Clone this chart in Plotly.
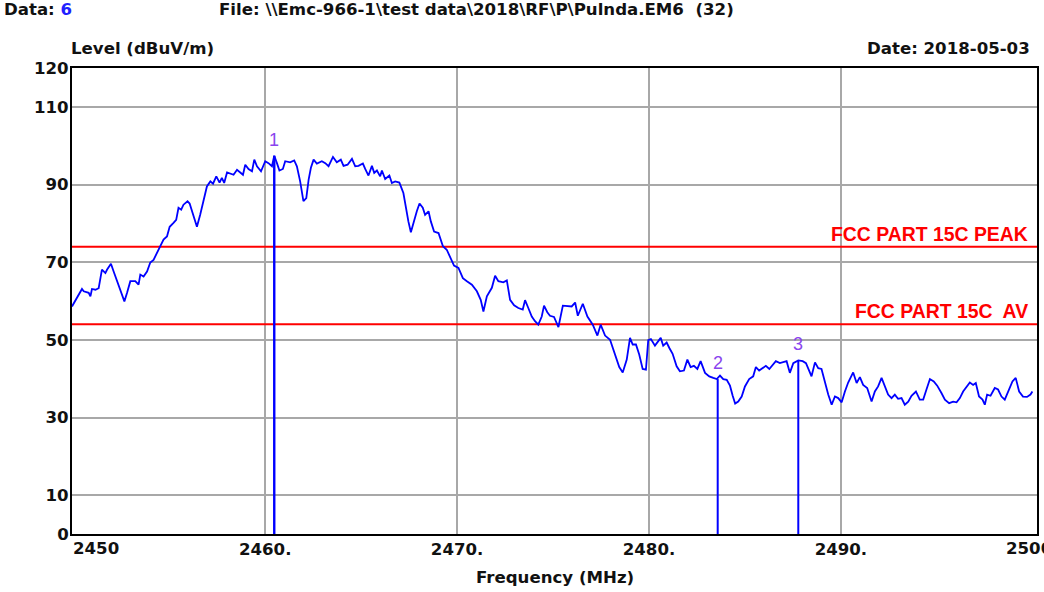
import plotly.graph_objects as go

# ---- data ----
freq_mhz = [
    2449.93, 2450.19, 2450.45, 2450.54, 2450.80, 2450.89, 2450.97, 2451.15, 2451.32, 2451.49,
    2451.67, 2451.76, 2451.96, 2452.10, 2452.36, 2452.66, 2452.80, 2452.97, 2453.23, 2453.40,
    2453.49, 2453.66, 2453.84, 2454.01, 2454.18, 2454.36, 2454.53, 2454.70, 2454.88, 2455.02,
    2455.22, 2455.36, 2455.48, 2455.62, 2455.74, 2455.95, 2456.06, 2456.27, 2456.44, 2456.61,
    2456.79, 2456.96, 2457.14, 2457.28, 2457.45, 2457.62, 2457.74, 2457.86, 2458.01, 2458.18,
    2458.35, 2458.53, 2458.70, 2458.84, 2458.96, 2459.13, 2459.31, 2459.43, 2459.57, 2459.78,
    2460.00, 2460.17, 2460.35, 2460.47, 2460.61, 2460.74, 2460.92, 2461.04, 2461.30, 2461.51,
    2461.65, 2461.82, 2461.99, 2462.14, 2462.26, 2462.38, 2462.52, 2462.69, 2462.95, 2463.13,
    2463.30, 2463.53, 2463.73, 2463.94, 2464.08, 2464.29, 2464.52, 2464.69, 2464.86, 2465.09,
    2465.21, 2465.38, 2465.56, 2465.68, 2465.82, 2465.99, 2466.08, 2466.25, 2466.47, 2466.60,
    2466.77, 2466.99, 2467.20, 2467.34, 2467.46, 2467.59, 2467.72, 2467.90, 2468.04, 2468.21,
    2468.33, 2468.51, 2468.63, 2468.80, 2469.03, 2469.26, 2469.46, 2469.64, 2469.84, 2470.07,
    2470.30, 2470.51, 2470.77, 2471.03, 2471.23, 2471.37, 2471.55, 2471.81, 2471.98, 2472.15,
    2472.41, 2472.59, 2472.76, 2472.97, 2473.19, 2473.42, 2473.54, 2473.71, 2473.89, 2474.06,
    2474.23, 2474.41, 2474.53, 2474.70, 2474.84, 2475.05, 2475.28, 2475.51, 2475.80, 2475.97,
    2476.15, 2476.29, 2476.55, 2476.79, 2477.07, 2477.31, 2477.48, 2477.71, 2477.97, 2478.23,
    2478.45, 2478.63, 2478.84, 2479.01, 2479.15, 2479.32, 2479.49, 2479.67, 2479.84, 2479.96,
    2480.10, 2480.31, 2480.43, 2480.61, 2480.74, 2480.92, 2481.06, 2481.23, 2481.44, 2481.61,
    2481.82, 2482.00, 2482.17, 2482.34, 2482.52, 2482.69, 2482.92, 2483.14, 2483.35, 2483.53,
    2483.70, 2483.87, 2484.05, 2484.22, 2484.36, 2484.49, 2484.65, 2484.83, 2485.00, 2485.22,
    2485.43, 2485.57, 2485.74, 2485.92, 2486.09, 2486.27, 2486.44, 2486.61, 2486.82, 2487.00,
    2487.17, 2487.34, 2487.52, 2487.78, 2488.01, 2488.18, 2488.35, 2488.47, 2488.65, 2488.82,
    2488.99, 2489.17, 2489.34, 2489.52, 2489.69, 2489.86, 2490.04, 2490.21, 2490.38, 2490.64,
    2490.82, 2490.99, 2491.16, 2491.37, 2491.60, 2491.77, 2491.94, 2492.12, 2492.29, 2492.46,
    2492.64, 2492.81, 2492.98, 2493.16, 2493.33, 2493.51, 2493.68, 2493.91, 2494.11, 2494.29,
    2494.46, 2494.64, 2494.84, 2495.02, 2495.24, 2495.42, 2495.64, 2495.85, 2496.03, 2496.20,
    2496.37, 2496.55, 2496.72, 2496.89, 2497.03, 2497.20, 2497.38, 2497.50, 2497.62, 2497.80,
    2498.02, 2498.19, 2498.37, 2498.54, 2498.71, 2498.94, 2499.11, 2499.29, 2499.49, 2499.70,
    2499.88, 2499.98,
]
level_dbuv = [
    58.6, 60.8, 63.1, 62.5, 62.1, 61.2, 63.1, 62.9, 63.3, 68.1,
    67.2, 68.1, 69.6, 67.6, 63.8, 59.9, 62.1, 65.1, 65.1, 64.2,
    66.8, 66.3, 67.6, 69.9, 70.6, 72.4, 74.1, 75.8, 76.6, 79.1,
    80.1, 80.9, 84.0, 83.5, 84.8, 85.7, 85.1, 81.6, 79.1, 82.2,
    86.1, 89.5, 90.8, 90.2, 92.1, 90.5, 91.7, 90.4, 93.1, 92.8,
    92.5, 93.8, 93.0, 92.5, 95.1, 94.0, 93.4, 96.4, 94.7, 93.4,
    96.0, 95.5, 94.7, 97.4, 95.5, 93.6, 94.0, 96.0, 95.7, 96.2,
    94.7, 90.8, 85.7, 86.5, 91.2, 94.3, 96.4, 95.4, 96.0, 95.5,
    94.7, 97.1, 95.7, 96.4, 94.8, 95.1, 96.6, 94.7, 94.8, 95.4,
    94.0, 92.3, 94.8, 93.0, 93.6, 92.1, 93.6, 91.4, 92.3, 90.4,
    90.8, 90.5, 87.8, 83.5, 80.5, 77.7, 80.1, 83.1, 85.1, 84.0,
    82.2, 83.1, 80.5, 77.9, 77.5, 74.1, 73.2, 71.1, 69.1, 68.5,
    65.9, 65.1, 64.2, 62.5, 60.3, 57.3, 61.2, 63.4, 66.5, 65.1,
    64.8, 65.3, 60.3, 58.9, 58.2, 57.8, 60.2, 58.2, 56.0, 54.8,
    53.9, 56.0, 58.8, 57.1, 56.2, 55.9, 53.3, 58.8, 58.6, 58.6,
    59.6, 56.2, 59.3, 56.0, 53.9, 51.1, 53.9, 51.1, 50.0, 46.4,
    43.0, 41.6, 44.9, 50.5, 48.8, 48.8, 46.2, 42.5, 42.3, 49.9,
    50.2, 48.5, 49.2, 50.5, 48.5, 49.3, 47.9, 46.4, 43.2, 41.9,
    42.1, 44.9, 43.0, 43.3, 42.5, 44.5, 41.5, 40.6, 40.2, 39.9,
    40.8, 39.9, 39.7, 38.2, 35.6, 33.6, 34.1, 35.4, 38.0, 39.9,
    40.6, 43.0, 42.1, 42.7, 43.3, 42.5, 43.6, 44.5, 44.0, 44.2,
    44.5, 41.5, 44.0, 44.7, 44.5, 44.0, 41.9, 40.6, 44.2, 42.7,
    42.5, 38.9, 35.9, 33.3, 35.4, 35.0, 33.9, 36.7, 39.0, 41.6,
    38.9, 40.4, 38.4, 37.6, 34.1, 36.7, 38.0, 40.2, 38.0, 35.9,
    35.0, 35.9, 34.8, 35.0, 33.3, 34.1, 35.6, 36.7, 34.6, 34.6,
    37.2, 39.9, 39.3, 38.2, 36.3, 34.6, 33.7, 34.1, 33.9, 35.0,
    36.7, 38.0, 39.0, 38.4, 38.9, 35.4, 34.6, 33.3, 35.9, 35.6,
    37.6, 37.2, 35.4, 34.6, 36.7, 39.3, 40.2, 36.7, 35.4, 35.3,
    35.9, 36.7,
]

marker_freqs = [2460.47, 2483.58, 2487.78]
marker_levels = [97.4, 39.9, 44.7]
marker_labels = ["1", "2", "3"]

limit_levels = [74, 54]
limit_labels = ["FCC PART 15C PEAK", "FCC PART 15C\u00a0 AV"]

x_range = [2449.93, 2500.22]
y_range = [0, 120]
y_tickvals = [0, 10, 30, 50, 70, 90, 110, 120]
y_ticktext = ["0", "10", "30", "50", "70", "90", "110", "120"]
x_tickvals = [2460, 2470, 2480, 2490]
x_ticktext = ["2460.", "2470.", "2480.", "2490."]
x_edge_ticks = [2450, 2500]
x_edge_text = ["2450", "2500."]

header_file = r"File: \\Emc-966-1\test data\2018\RF\P\Pulnda.EM6" + "\u00a0 (32)"
header_data_no = "6"
header_date = "Date: 2018-05-03"
y_title = "Level (dBuV/m)"
x_title = "Frequency (MHz)"

# ---- style ----
TXT = "DejaVu Sans"
ARIAL = "Liberation Sans"
BLUE = "#0000ff"
RED = "#ff0000"
GRID = "#a8a8a8"
PURPLE = "#8a44ee"
FS = 16.6
TFONT = dict(family=TXT, size=FS, color="#111111", weight="bold")

fig = go.Figure()

# limit lines
for lv in limit_levels:
    fig.add_trace(go.Scatter(x=x_range, y=[lv, lv], mode="lines",
                             line=dict(color=RED, width=2), hoverinfo="skip",
                             showlegend=False))

# spectrum trace
fig.add_trace(go.Scatter(x=freq_mhz, y=level_dbuv, mode="lines",
                         line=dict(color=BLUE, width=1.8), showlegend=False))

# marker lines
for i, (f, lv) in enumerate(zip(marker_freqs, marker_levels)):
    fig.add_trace(go.Scatter(x=[f, f], y=[0, lv], mode="lines",
                             line=dict(color=BLUE, width=2.4 if i == 0 else 2),
                             showlegend=False, hoverinfo="skip"))

annotations = []
for f, lv, lab in zip(marker_freqs, marker_levels, marker_labels):
    annotations.append(dict(x=f, y=lv, xref="x", yref="y", text=lab, showarrow=False,
                            yanchor="bottom", xanchor="center", yshift=4,
                            font=dict(family=ARIAL, size=18, color=PURPLE)))

for lv, lab in zip(limit_levels, limit_labels):
    annotations.append(dict(x=0.9925, y=lv, xref="paper", yref="y", text=lab,
                            showarrow=False, xanchor="right", yanchor="bottom", yshift=0,
                            font=dict(family=ARIAL, size=19.4, color=RED, weight="bold")))

# edge x tick labels
annotations.append(dict(x=x_range[0], y=0, xref="x", yref="y", text=x_edge_text[0],
                        showarrow=False, xanchor="left", yanchor="top", yshift=-3, xshift=-1,
                        font=TFONT))
annotations.append(dict(x=x_edge_ticks[1], y=0, xref="x", yref="y", text=x_edge_text[1],
                        showarrow=False, xanchor="center", yanchor="top", yshift=-3,
                        font=TFONT))

# headers
annotations.append(dict(x=-0.0725, y=1.1255, xref="paper", yref="paper",
                        text="Data: <span style='color:#2020ff'>" + header_data_no + "</span>",
                        showarrow=False, xanchor="left", yanchor="middle", font=TFONT))
annotations.append(dict(x=0.1499, y=1.1255, xref="paper", yref="paper", text=header_file,
                        showarrow=False, xanchor="left", yanchor="middle", font=TFONT))
annotations.append(dict(x=-0.003, y=1.0429, xref="paper", yref="paper", text=y_title,
                        showarrow=False, xanchor="left", yanchor="middle", font=TFONT))
annotations.append(dict(x=0.9948, y=1.0429, xref="paper", yref="paper", text=header_date,
                        showarrow=False, xanchor="right", yanchor="middle", font=TFONT))
annotations.append(dict(x=0.5, y=-0.0923, xref="paper", yref="paper", text=x_title,
                        showarrow=False, xanchor="center", yanchor="middle", font=TFONT))

fig.update_layout(
    width=1044, height=592,
    template="none",
    paper_bgcolor="white", plot_bgcolor="white",
    margin=dict(l=72, r=7, t=68, b=58, autoexpand=False),
    showlegend=False,
    annotations=annotations,
    xaxis=dict(range=x_range, tickvals=x_tickvals, ticktext=x_ticktext,
               showgrid=True, gridcolor=GRID, gridwidth=2, zeroline=False,
               showline=True, mirror=True, linecolor="black", linewidth=2,
               ticks="", ticklabelstandoff=-1, automargin=False, tickfont=TFONT),
    yaxis=dict(range=y_range, tickvals=y_tickvals, ticktext=y_ticktext,
               showgrid=True, gridcolor=GRID, gridwidth=2, zeroline=False,
               showline=True, mirror=True, linecolor="black", linewidth=2,
               ticks="", ticklabelstandoff=-2, automargin=False, tickfont=TFONT),
)

# remove the browser's default 8px page margin so the figure sits at the window origin
fig.write_html("out.html", config={"displayModeBar": False},
               post_script="document.body.style.margin='0px';")
